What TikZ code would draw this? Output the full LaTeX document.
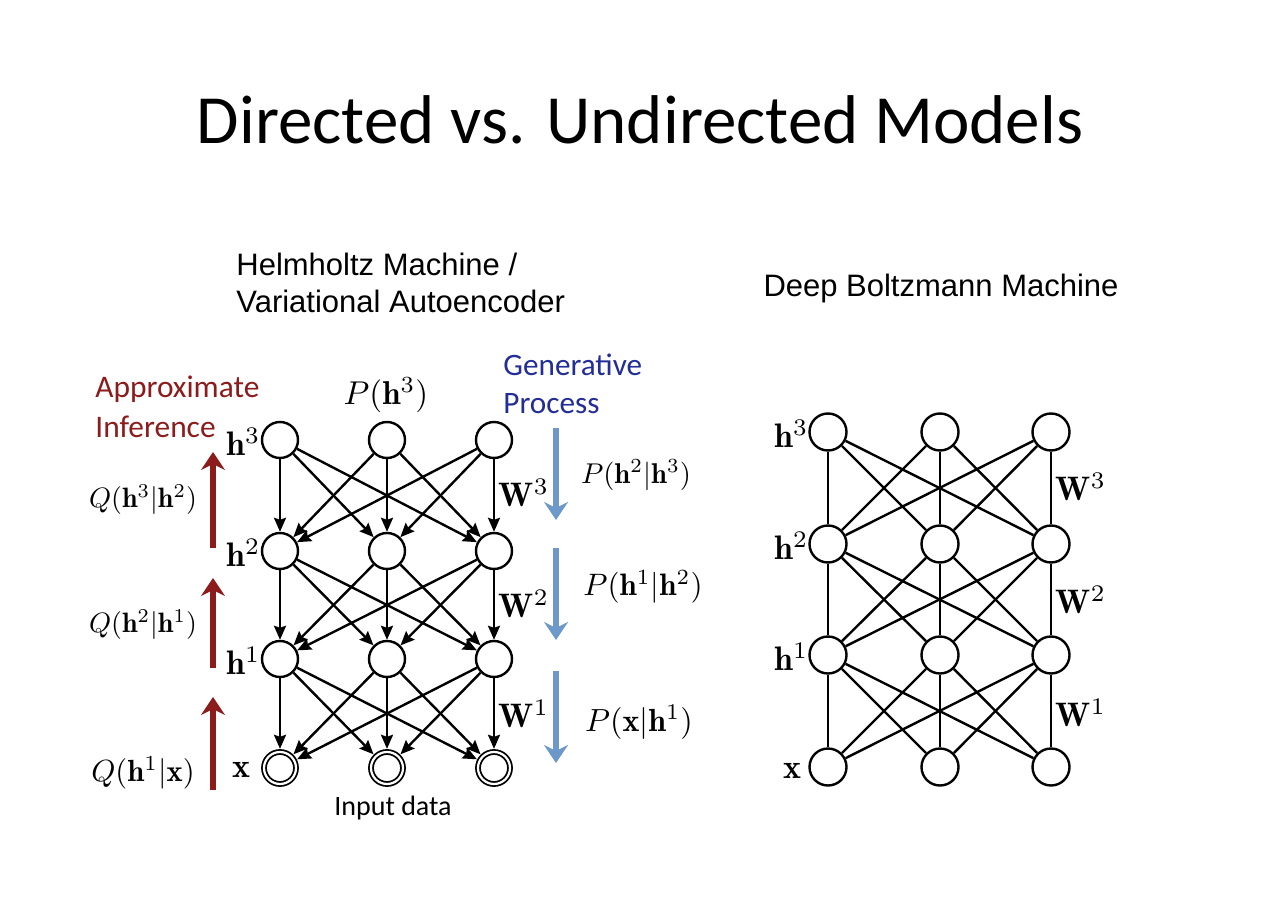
\documentclass[tikz,border=0pt]{standalone}
\usepackage{amsmath}
\usepackage{fontspec}
\newfontfamily\calibri{Carlito}
\newfontfamily\arialf{Liberation Sans}
\usetikzlibrary{arrows.meta}
\definecolor{infred}{RGB}{140,28,28}
\definecolor{genblue}{RGB}{35,45,150}
\definecolor{arrblue}{RGB}{108,152,202}
\begin{document}
\begin{tikzpicture}[x=0.5pt,y=-0.5pt,
  unit/.style={circle,draw,line width=1.2pt,fill=white,minimum size=18pt,inner sep=0pt},
  runit/.style={circle,draw,line width=1.2pt,fill=white,minimum size=18.5pt,inner sep=0pt},
  vis/.style={circle,draw,line width=0.9pt,double,double distance=1.1pt,fill=white,minimum size=16pt,inner sep=0pt,outer sep=1.6pt},
  arr/.style={line width=1.2pt,-{Stealth[length=7pt,width=6pt,inset=1pt]}},
  undir/.style={line width=1.2pt},
  lab/.style={inner sep=0pt,scale=1.7},
  redarr/.style={line width=2.6pt,infred,-{Stealth[length=9pt,width=12pt,inset=3pt]}},
  bluearr/.style={line width=2.6pt,arrblue,-{Stealth[length=9pt,width=12pt,inset=3pt]}},
  txt/.style={inner sep=0pt,anchor=west}]
\useasboundingbox[fill=white] (0,0) rectangle (1280,904);

% title
\node[inner sep=0pt] (title) at (640,120) {\calibri\fontsize{34.5}{40}\selectfont Directed vs. Undirected Models};

% headings
\node[txt,font=\arialf\fontsize{15.5}{18}\selectfont] (hm1) at (236,264) {Helmholtz Machine /};
\node[txt,font=\arialf\fontsize{15.5}{18}\selectfont] (hm2) at (236,301) {Variational Autoencoder};
\node[inner sep=0pt,font=\arialf\fontsize{15.5}{18}\selectfont] (dbm) at (941,288) {Deep Boltzmann Machine};

\node[txt,font=\calibri\fontsize{15.7}{18}\selectfont,text=infred] (ai1) at (95,389) {Approximate};
\node[txt,font=\calibri\fontsize{15.7}{18}\selectfont,text=infred] (ai2) at (95,427) {Inference};
\node[txt,font=\calibri\fontsize{15.6}{18}\selectfont,text=genblue] (gp1) at (503,365) {Generative};
\node[txt,font=\calibri\fontsize{15.6}{18}\selectfont,text=genblue] (gp2) at (503,404) {Process};
\node[inner sep=0pt,font=\calibri\fontsize{14}{16}\selectfont] (input) at (393,808) {Input data};

% left network nodes
\foreach \i/\x in {1/280,2/387,3/494}{
  \node[unit] (a3\i) at (\x,440) {};
  \node[unit] (a2\i) at (\x,551) {};
  \node[unit] (a1\i) at (\x,659) {};
  \node[vis]  (a0\i) at (\x,768) {};
}
\foreach \i in {1,2,3}{
  \foreach \j in {1,2,3}{
    \draw[arr] (a3\i) -- (a2\j);
    \draw[arr] (a2\i) -- (a1\j);
    \draw[arr] (a1\i) -- (a0\j);
  }
}

% right network nodes
\foreach \i/\x in {1/828,2/940,3/1051}{
  \node[runit] (b3\i) at (\x,432) {};
  \node[runit] (b2\i) at (\x,544) {};
  \node[runit] (b1\i) at (\x,655) {};
  \node[runit] (b0\i) at (\x,767) {};
}
\foreach \i in {1,2,3}{
  \foreach \j in {1,2,3}{
    \draw[undir] (b3\i) -- (b2\j);
    \draw[undir] (b2\i) -- (b1\j);
    \draw[undir] (b1\i) -- (b0\j);
  }
}

% left layer labels
\node[lab,anchor=east] (lh3) at (261,442) {$\mathbf{h}^3$};
\node[lab,anchor=east] (lh2) at (261,553) {$\mathbf{h}^2$};
\node[lab,anchor=east] (lh1) at (261,661) {$\mathbf{h}^1$};
\node[lab,anchor=east] (lx) at (251,770) {$\mathbf{x}$};
\node[lab,anchor=west] (lw3) at (498,493) {$\mathbf{W}^3$};
\node[lab,anchor=west] (lw2) at (498,604) {$\mathbf{W}^2$};
\node[lab,anchor=west] (lw1) at (498,714) {$\mathbf{W}^1$};

% right layer labels
\node[lab,anchor=east] (rh3) at (809,434) {$\mathbf{h}^3$};
\node[lab,anchor=east] (rh2) at (809,546) {$\mathbf{h}^2$};
\node[lab,anchor=east] (rh1) at (809,657) {$\mathbf{h}^1$};
\node[lab,anchor=east] (rx) at (802,771) {$\mathbf{x}$};
\node[lab,anchor=west] (rw3) at (1055,487) {$\mathbf{W}^3$};
\node[lab,anchor=west] (rw2) at (1055,600) {$\mathbf{W}^2$};
\node[lab,anchor=west] (rw1) at (1055,713) {$\mathbf{W}^1$};

% probability labels
\node[inner sep=0pt,scale=1.65] (ph3) at (386,395) {$P(\mathbf{h}^3)$};
\node[inner sep=0pt,scale=1.43] (p23) at (636,475) {$P(\mathbf{h}^2|\mathbf{h}^3)$};
\node[inner sep=0pt,scale=1.55] (p12) at (643,587) {$P(\mathbf{h}^1|\mathbf{h}^2)$};
\node[inner sep=0pt,scale=1.6] (px1) at (639,722) {$P(\mathbf{x}|\mathbf{h}^1)$};
\node[inner sep=0pt,scale=1.4] (q32) at (143,500) {$Q(\mathbf{h}^3|\mathbf{h}^2)$};
\node[inner sep=0pt,scale=1.4] (q21) at (143,625) {$Q(\mathbf{h}^2|\mathbf{h}^1)$};
\node[inner sep=0pt,scale=1.53] (q1x) at (143,773) {$Q(\mathbf{h}^1|\mathbf{x})$};

% red inference arrows
\coordinate (r1s) at (213,548); \coordinate (r1e) at (213,452);
\coordinate (r2s) at (213,668); \coordinate (r2e) at (213,578);
\coordinate (r3s) at (213,790); \coordinate (r3e) at (213,697);
\draw[redarr] (r1s) -- (r1e);
\draw[redarr] (r2s) -- (r2e);
\draw[redarr] (r3s) -- (r3e);

% blue generative arrows
\coordinate (g1s) at (556,428); \coordinate (g1e) at (556,520);
\coordinate (g2s) at (556,548); \coordinate (g2e) at (556,640);
\coordinate (g3s) at (556,671); \coordinate (g3e) at (556,763);
\draw[bluearr] (g1s) -- (g1e);
\draw[bluearr] (g2s) -- (g2e);
\draw[bluearr] (g3s) -- (g3e);
\end{tikzpicture}
\end{document}
